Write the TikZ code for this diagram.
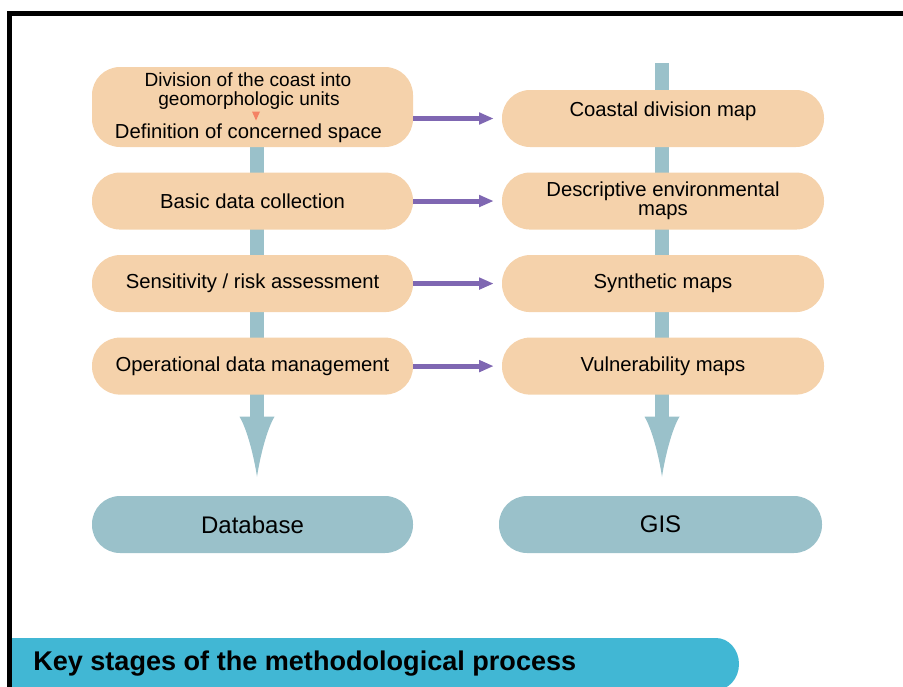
\documentclass[tikz,border=0pt]{standalone}
\usepackage{fontspec}
\setmainfont{Liberation Sans}
\usetikzlibrary{arrows.meta, positioning, calc, backgrounds}
\definecolor{stagepeach}{RGB}{245,210,171}
\definecolor{spineteal}{RGB}{154,193,202}
\definecolor{linkpurple}{RGB}{127,103,178}
\definecolor{captioncyan}{RGB}{65,183,212}
\definecolor{stepsalmon}{RGB}{244,130,100}
\tikzset{
  stage/.style={rectangle, fill=stagepeach, rounded corners=21pt,
    minimum width=240.75pt, minimum height=42.75pt, inner sep=0pt,
    align=center, font=\fontsize{15.2pt}{14.3pt}\selectfont},
  output/.style={stage, fill=spineteal, font=\fontsize{18pt}{21pt}\selectfont},
  spine/.style={draw=spineteal, line width=10.5pt},
  link/.style={-{Triangle[length=11pt, width=8.5pt]}, draw=linkpurple,
    line width=3.75pt, shorten >=6pt}
}

\begin{document}
\begin{tikzpicture}[x=0.75pt, y=-0.75pt]
  \useasboundingbox (0,0) rectangle (903,686);

  % Frame
  \draw[line width=3.4pt] (9.5,690) -- (9.5,13.5) -- (910,13.5);

  % Stages (left)
  \node[stage, minimum height=60pt] (l1) at (252.5,107) {};
  \node[anchor=base, inner sep=0pt, text depth=0pt, font=\fontsize{14.3pt}{14pt}\selectfont] (l1a) at ($(l1.center)+(-4.5,-20.5)$) {Division of the coast into};
  \node[anchor=base, inner sep=0pt, text height=7pt, font=\fontsize{14.3pt}{14pt}\selectfont] (l1b) at ($(l1.center)+(-3.5,-1.5)$) {geomorphologic units};
  \node[anchor=base, font=\fontsize{15.2pt}{14.3pt}\selectfont] (l1c) at ($(l1.center)+(-4,31)$) {Definition of concerned space};
  \fill[stepsalmon] ($(l1.center)+(-0.5,4.5)$) -- ++(8,0) -- ++(-4,9) -- cycle;
  \node[stage, below=18.75pt of l1] (l2) {Basic data collection};
  \node[stage, below=18.75pt of l2] (l3) {Sensitivity / risk assessment};
  \node[stage, below=18.75pt of l3] (l4) {Operational data management};

  % Maps (right)
  \node[stage, minimum width=241.5pt] (r1) at (663,118.5) {\raisebox{5.8pt}[\height][\depth]{Coastal division map}};
  \node[stage, minimum width=241.5pt, below=18.75pt of r1] (r2) {Descriptive environmental\\maps};
  \node[stage, minimum width=241.5pt, below=18.75pt of r2] (r3) {Synthetic maps};
  \node[stage, minimum width=241.5pt, below=18.75pt of r3] (r4) {Vulnerability maps};

  % Results
  \node[output] (db) at (252.5,524.5) {Database};
  \node[output, minimum width=242.25pt] (gis) at (660.5,524.5) {GIS};

  % Spines and big arrows
  \coordinate (lneck) at ($(db.north)+(4.5,-79)$);
  \coordinate (ltip) at ($(db.north)+(4.5,-19)$);
  \coordinate (rneck) at ($(gis.north)+(1.5,-79)$);
  \coordinate (rtip) at ($(gis.north)+(1.5,-19)$);
  \coordinate (rtop) at (662,63);
  \begin{scope}[on background layer]
    \draw[spine] (l1.center -| lneck) -- (lneck);
    \fill[spineteal] ($(lneck)+(-17.5,0)$) .. controls +(7.5,12) and +(-3,-20) .. (ltip)
      .. controls +(3,-20) and +(-7.5,12) .. ($(lneck)+(17.5,0)$) -- cycle;
    \draw[spine] (rtop) -- (rneck);
    \fill[spineteal] ($(rneck)+(-17.5,0)$) .. controls +(7.5,12) and +(-3,-20) .. (rtip)
      .. controls +(3,-20) and +(-7.5,12) .. ($(rneck)+(17.5,0)$) -- cycle;
  \end{scope}

  % Links
  \draw[link] (l1.east |- r1.west) -- (r1.west);
  \draw[link] (l2.east |- r2.west) -- (r2.west);
  \draw[link] (l3.east |- r3.west) -- (r3.west);
  \draw[link] (l4.east |- r4.west) -- (r4.west);

  % Caption
  \fill[captioncyan] (12,638) -- (716,638) arc[start angle=-90, end angle=90, x radius=23, y radius=26] -- (12,690) -- cycle;
  \node[anchor=base west, inner sep=0pt, font=\fontsize{20.3pt}{24pt}\selectfont\bfseries] (caption) at (33,670) {Key stages of the methodological process};
\end{tikzpicture}
\end{document}
